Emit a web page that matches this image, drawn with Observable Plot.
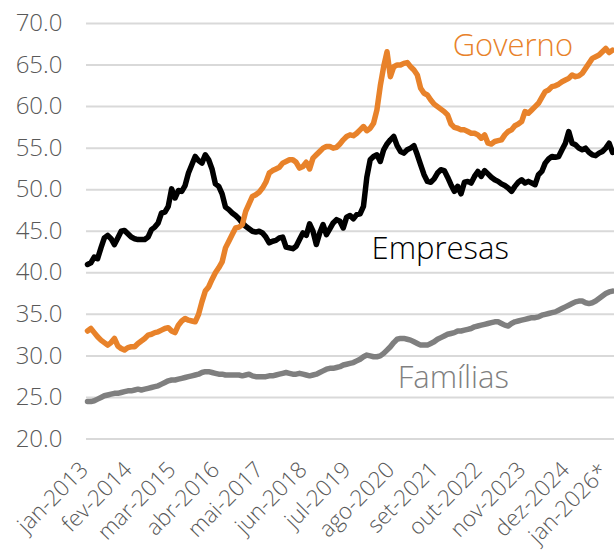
<!DOCTYPE html>
<html>
<head>
<meta charset="utf-8">
<script src="https://cdn.jsdelivr.net/npm/d3@7"></script>
<script src="https://cdn.jsdelivr.net/npm/@observablehq/plot@0.6"></script>
<style>
  html, body { margin: 0; padding: 0; background: #fff; }
  #chart { width: 614px; height: 552px; }
</style>
</head>
<body>
<div id="chart"></div>
<script>
// Monthly series, jan-2013 (index 0) to jan-2026 (index 156)
const governo = [
  33.0,33.3,32.8,32.3,31.9,31.6,31.3,31.6,32.1,31.2,
  30.9,30.7,31.0,31.1,31.1,31.5,31.8,32.1,32.5,32.6,
  32.8,32.9,33.1,33.3,33.4,33.0,32.8,33.7,34.2,34.5,
  34.3,34.2,34.1,35.0,36.5,37.8,38.3,39.2,40.0,40.6,
  41.3,43.0,43.8,44.6,45.4,45.5,45.8,47.4,48.3,49.2,
  49.4,49.7,50.2,50.9,52.0,52.3,52.5,52.7,53.2,53.4,
  53.6,53.6,53.3,52.6,52.8,53.3,52.5,53.8,54.2,54.6,
  55.0,55.2,55.2,55.0,55.1,55.5,56.0,56.4,56.6,56.5,
  56.8,57.2,57.6,57.1,57.4,58.0,59.6,62.5,64.8,66.6,
  63.6,64.8,65.0,65.0,65.2,65.3,64.8,64.4,63.8,62.2,
  61.6,61.4,60.8,60.3,60.0,59.7,59.4,59.0,57.9,57.5,
  57.4,57.2,57.2,57.0,56.8,56.8,56.6,56.2,56.6,55.6,
  55.5,55.8,55.9,56.0,56.6,57.0,57.2,57.7,57.9,58.2,
  59.4,59.2,59.6,60.0,60.4,61.1,61.8,62.0,62.4,62.5,
  62.7,63.0,63.2,63.4,63.8,63.6,63.7,64.0,64.6,65.2,
  65.8,66.0,66.2,66.6,67.0,66.5,66.8
];
const empresas = [
  41.0,41.2,41.9,41.7,43.0,44.2,44.5,44.1,43.4,44.2,
  45.0,45.1,44.7,44.3,44.1,44.0,44.0,44.0,44.3,45.2,
  45.5,46.0,47.2,47.3,48.0,50.1,49.0,49.9,49.8,50.5,
  52.0,53.0,54.0,53.5,53.2,54.2,53.6,52.5,50.7,50.4,
  49.5,47.9,47.6,47.2,46.9,46.5,46.0,45.6,45.3,45.0,
  44.9,45.0,44.8,44.3,43.6,43.8,43.9,44.2,44.3,43.1,
  43.0,42.9,43.2,44.0,44.8,44.5,45.9,45.0,43.4,44.8,
  45.8,44.6,45.3,46.0,46.4,46.2,45.4,46.7,46.9,46.5,
  47.0,47.1,48.0,51.5,53.6,54.0,54.2,53.4,54.8,55.5,
  56.0,56.4,55.3,54.6,54.4,54.8,55.0,55.3,54.2,53.0,
  51.8,51.0,50.9,51.3,52.0,52.4,52.3,51.5,50.6,49.8,
  50.4,49.5,50.9,51.0,50.8,51.6,52.2,51.6,52.3,51.9,
  51.5,51.2,51.0,50.7,50.5,50.2,49.8,50.4,50.9,51.2,
  50.8,51.0,50.8,50.6,51.8,52.2,53.2,53.7,54.0,53.9,
  54.0,54.8,55.6,57.0,55.6,55.4,55.0,54.8,55.0,54.5,
  54.2,54.1,54.4,54.6,55.0,55.6,54.5
];
const familias = [
  24.5,24.5,24.6,24.8,25.0,25.2,25.3,25.4,25.5,25.5,
  25.6,25.7,25.8,25.8,25.9,26.0,25.9,26.0,26.1,26.2,
  26.3,26.4,26.6,26.8,27.0,27.1,27.1,27.2,27.3,27.4,
  27.5,27.6,27.7,27.8,28.0,28.1,28.1,28.0,27.9,27.8,
  27.8,27.7,27.7,27.7,27.7,27.7,27.6,27.7,27.8,27.6,
  27.5,27.5,27.5,27.5,27.6,27.6,27.7,27.8,27.9,28.0,
  27.9,27.8,27.8,27.9,27.8,27.7,27.6,27.7,27.8,28.0,
  28.2,28.4,28.5,28.5,28.6,28.7,28.9,29.0,29.1,29.2,
  29.4,29.6,29.9,30.1,30.0,29.9,29.9,30.0,30.3,30.7,
  31.1,31.6,32.0,32.1,32.1,32.0,31.9,31.7,31.5,31.3,
  31.3,31.3,31.5,31.7,32.0,32.2,32.4,32.6,32.7,32.8,
  33.0,33.0,33.1,33.2,33.3,33.5,33.6,33.7,33.8,33.9,
  34.0,34.1,34.1,33.9,33.7,33.6,33.9,34.1,34.2,34.3,
  34.4,34.5,34.6,34.6,34.7,34.9,35.0,35.1,35.2,35.3,
  35.5,35.7,35.9,36.1,36.3,36.5,36.6,36.6,36.4,36.3,
  36.4,36.6,36.9,37.2,37.5,37.7,37.8
];

const tickLabels = ["jan-2013","fev-2014","mar-2015","abr-2016","mai-2017","jun-2018",
  "jul-2019","ago-2020","set-2021","out-2022","nov-2023","dez-2024","jan-2026*"];
const tickStep = 13; // label every 13 months
const yTicks = [20, 25, 30, 35, 40, 45, 50, 55, 60, 65, 70];

const seriesNames = ["Famílias", "Empresas", "Governo"];
const seriesColors = ["#7f7f7f", "#000000", "#e8822a"];
const labelColors = ["#808080", "#000000", "#e8822a"];
// series label anchors (month index, value)
const labelX = [108.7, 104.8, 126.4];
const labelY = [27.35, 42.8, 67.3];

const seriesData = [familias, empresas, governo];
const rows = seriesData.flatMap((arr, s) => arr.map((v, i) => ({series: seriesNames[s], i, v})));
const tickRows = tickLabels.map((t, k) => ({i: k * tickStep, t}));
const tickMain = tickRows.slice(0, -1);
const tickLast = tickRows.slice(-1);
const labelRows = seriesNames.map((n, s) => ({name: n, x: labelX[s], y: labelY[s], c: labelColors[s]}));

const tickStyle = {x: "i", y: () => 20, text: "t", rotate: -45, textAnchor: "end", lineAnchor: "middle",
  fontSize: 22.5, fontWeight: 300, fill: "#595959", dy: 27};

const chart = Plot.plot({
  width: 614,
  height: 552,
  marginLeft: 87,
  marginRight: 2,
  marginTop: 23,
  marginBottom: 113.5,
  style: {fontFamily: "'Open Sans', sans-serif", fontWeight: 300, color: "#595959", background: "#fff", overflow: "visible"},
  x: {type: "linear", domain: [0, 156], axis: null},
  y: {domain: [20, 70], axis: null},
  color: {domain: seriesNames, range: seriesColors},
  marks: [
    Plot.ruleY(yTicks, {stroke: "#d9d9d9", strokeWidth: 2, insetLeft: -1, insetRight: -3}),
    Plot.text(yTicks, {x: 0, y: d => d, text: d => d.toFixed(1), textAnchor: "end", dx: -25, fontSize: 24, fontWeight: 300, fill: "#595959"}),
    Plot.line(rows, {x: "i", y: "v", z: "series", stroke: "series", strokeWidth: 5.5, strokeLinejoin: "round", strokeLinecap: "round"}),
    Plot.text(labelRows, {x: "x", y: "y", text: "name", fill: "c", fontSize: 31, fontWeight: 300, lineAnchor: "middle"}),
    Plot.text(tickMain, {...tickStyle, dx: -3}),
    Plot.text(tickLast, {...tickStyle, dx: -8, dy: 29})
  ]
});
document.getElementById("chart").appendChild(chart);
</script>
</body>
</html>
